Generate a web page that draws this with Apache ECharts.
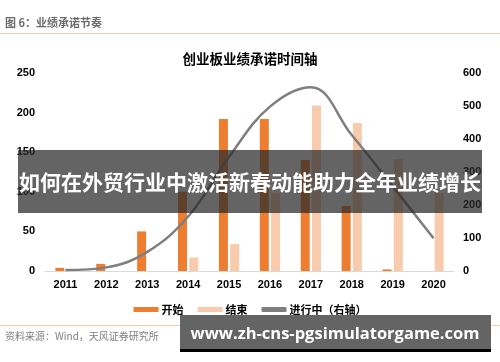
<!DOCTYPE html>
<html>
<head>
<meta charset="utf-8">
<script src="https://cdn.jsdelivr.net/npm/echarts@6/dist/echarts.min.js"></script>
<style>
html,body{margin:0;padding:0;background:#fff;}
#c{width:500px;height:362px;}
</style>
</head>
<body>
<div id="c"></div>
<script>
const years = ['2011','2012','2013','2014','2015','2016','2017','2018','2019','2020'];
const startValues = [4, 9, 50, 100, 192, 192, 140, 82, 2, 0];
const endValues = [0, 0, 0, 17, 34, 98, 209, 187, 141, 98];
const ongoingValues = [3, 11, 58, 165, 346, 498, 557, 412, 257, 99];
const leftTicks = {min: 0, max: 250, interval: 50};
const rightTicks = {min: 0, max: 600, interval: 100};
const seriesNames = ['开始', '结束', '进行中（右轴）'];
const figTitle = '图 6：业绩承诺节奏';
const chartTitle = '创业板业绩承诺时间轴';
const sourceText = '资料来源：Wind，天风证券研究所';
const bannerText = '如何在外贸行业中激活新春动能助力全年业绩增长';
const urlText = 'www.zh-cns-pgsimulatorgame.com';

const latin = '"Liberation Sans", Arial, "Noto Sans CJK SC", sans-serif';
const cjk = '"Noto Sans CJK SC", "Liberation Sans", sans-serif';

const chart = echarts.init(document.getElementById('c'), null, {renderer: 'canvas'});
chart.setOption({
  animation: false,
  backgroundColor: '#fff',
  title: {
    text: chartTitle, left: 'center', top: 47,
    textStyle: {fontFamily: cjk, fontSize: 13.5, fontWeight: 'bold', color: '#000'}
  },
  legend: {
    bottom: 42, left: 'center',
    itemWidth: 25, itemHeight: 5, itemGap: 14,
    textStyle: {fontFamily: cjk, fontSize: 11, fontWeight: 'bold', color: '#000', padding: [0,0,0,-2]},
    data: [
      {name: seriesNames[0], icon: 'rect'},
      {name: seriesNames[1], icon: 'rect'},
      {name: seriesNames[2], icon: 'roundRect', itemStyle: {color: '#7f7f7f'}}
    ]
  },
  grid: {left: 45, right: 46, top: 73, bottom: 91},
  xAxis: {
    type: 'category', data: years, boundaryGap: true,
    axisLine: {lineStyle: {color: '#d9d9d9', width: 1}},
    axisTick: {show: false},
    axisLabel: {fontFamily: latin, fontSize: 11, fontWeight: 'bold', color: '#000', margin: 8}
  },
  yAxis: [
    {
      type: 'value', min: leftTicks.min, max: leftTicks.max, interval: leftTicks.interval,
      splitLine: {show: false}, axisLine: {show: false}, axisTick: {show: false},
      axisLabel: {fontFamily: latin, fontSize: 11, fontWeight: 'bold', color: '#000', margin: 10}
    },
    {
      type: 'value', min: rightTicks.min, max: rightTicks.max, interval: rightTicks.interval,
      splitLine: {show: false}, axisLine: {show: false}, axisTick: {show: false},
      axisLabel: {fontFamily: latin, fontSize: 11, fontWeight: 'bold', color: '#000', margin: 9}
    }
  ],
  series: [
    {name: seriesNames[0], type: 'bar', data: startValues, barWidth: 9, barGap: '25%',
     itemStyle: {color: '#ED7D31'}},
    {name: seriesNames[1], type: 'bar', data: endValues, barWidth: 9,
     itemStyle: {color: '#F8CBAD'}},
    {name: seriesNames[2], type: 'line', yAxisIndex: 1, data: ongoingValues, smooth: 0.4,
     showSymbol: false, symbol: 'none',
     lineStyle: {color: '#7f7f7f', width: 2.5}, itemStyle: {color: '#7f7f7f'}, z: 5}
  ],
  graphic: [
    {type: 'text', left: 5, top: 17, z: 50,
     style: {text: figTitle, font: 'bold 11px ' + cjk, fill: '#6b6b6b'}},
    {type: 'rect', shape: {x: 0, y: 33, width: 500, height: 1}, z: 50,
     style: {fill: '#F8CBAD'}},
    {type: 'rect', shape: {x: 0, y: 325, width: 500, height: 1}, z: 50,
     style: {fill: '#F8CBAD'}},
    {type: 'text', left: 5, top: 331, z: 50,
     style: {text: sourceText, font: '10px ' + cjk, fill: '#7f7f7f'}},
    {type: 'rect', shape: {x: 18, y: 150, width: 464, height: 63}, z: 100,
     style: {fill: 'rgba(40,40,40,0.72)'}},
    {type: 'text', x: 250, y: 182, z: 101,
     style: {text: bannerText, font: 'bold 21px ' + cjk, fill: '#fff', align: 'center', verticalAlign: 'middle'}},
    {type: 'rect', shape: {x: 180, y: 315, width: 311, height: 37}, z: 100,
     style: {fill: '#646464'}},
    {type: 'rect', shape: {x: 180, y: 349, width: 311, height: 3}, z: 101,
     style: {fill: '#000'}},
    {type: 'text', x: 335, y: 334, z: 102,
     style: {text: urlText, font: 'bold 16.5px "Open Sans", "DejaVu Sans", sans-serif', fill: '#fff', align: 'center', verticalAlign: 'middle'}}
  ]
});
</script>
</body>
</html>
